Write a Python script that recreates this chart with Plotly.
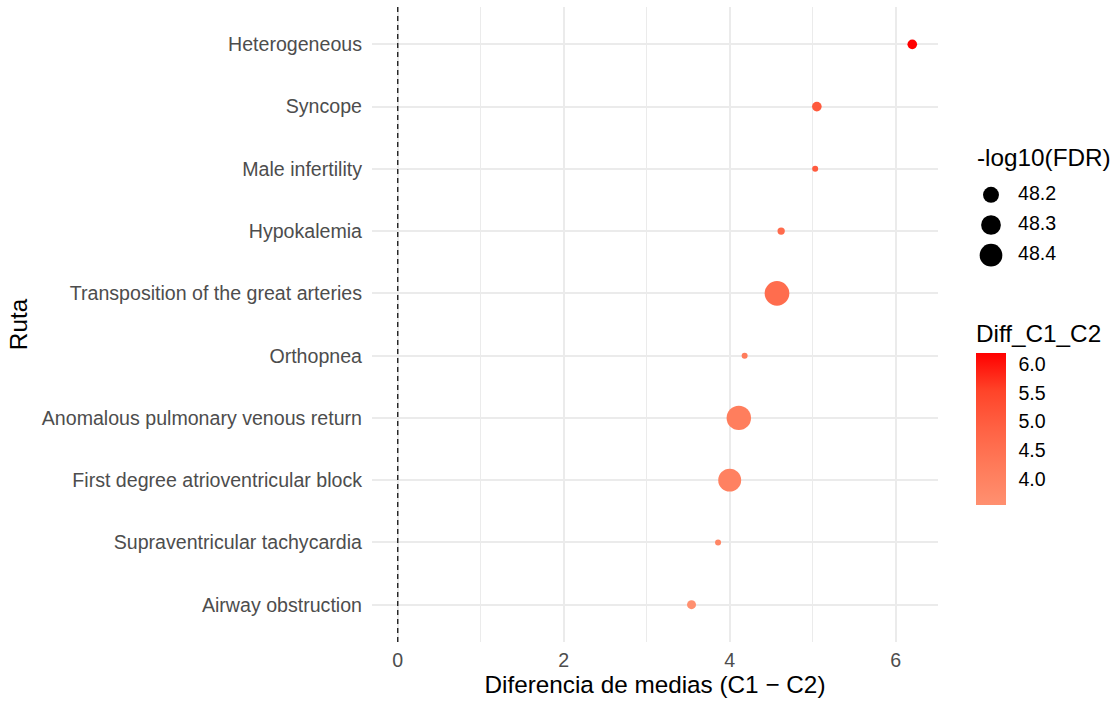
import plotly.graph_objects as go
import numpy as np

# ---- data (top to bottom) ----
rutas = ["Heterogeneous", "Syncope", "Male infertility", "Hypokalemia",
         "Transposition of the great arteries", "Orthopnea",
         "Anomalous pulmonary venous return", "First degree atrioventricular block",
         "Supraventricular tachycardia", "Airway obstruction"]
diff_c1_c2 = [6.20, 5.05, 5.03, 4.62, 4.57, 4.18, 4.11, 4.00, 3.86, 3.54]
neg_log10_fdr = [48.105, 48.105, 48.09, 48.092, 48.48, 48.09, 48.47, 48.41, 48.09, 48.10]
size_breaks = [48.2, 48.3, 48.4]
size_labels = ["48.2", "48.3", "48.4"]
color_ticks = [4.0, 4.5, 5.0, 5.5, 6.0]
color_ticklabels = ["4.0", "4.5", "5.0", "5.5", "6.0"]

W, H = 1117, 704
# panel in pixels
PL, PR, PT, PB = 372, 938, 7, 642
FONT = "Liberation Sans, Arial, sans-serif"
TITLE_SIZE = 24.3
TEXT_SIZE = 19.6

smin, smax = min(neg_log10_fdr), max(neg_log10_fdr)
DMIN, DMAX = 6.0, 24.7


def size_scale(v):
    t = np.clip((np.asarray(v, float) - smin) / (smax - smin), 0, 1)
    return DMIN + (DMAX - DMIN) * np.sqrt(t)


cscale = [[0.0, "#FF9070"], [0.25, "#FF7B5A"], [0.5, "#FF6244"],
          [0.75, "#FF4429"], [1.0, "#FF0000"]]

lo = min(0, min(diff_c1_c2))
hi = max(diff_c1_c2)
pad = 0.05 * (hi - lo)

fig = go.Figure()

fig.add_trace(go.Scatter(
    x=diff_c1_c2, y=rutas, mode="markers",
    marker=dict(size=size_scale(neg_log10_fdr), color=diff_c1_c2,
                colorscale=cscale, cmin=min(diff_c1_c2), cmax=max(diff_c1_c2),
                line=dict(width=0), opacity=1,
                colorbar=dict(
                    title=dict(text="Diff_C1_C2", side="top",
                               font=dict(size=TITLE_SIZE, color="black", family=FONT)),
                    x=976 / W, xanchor="left", xref="paper",
                    y=(H - 505) / H, yanchor="bottom", yref="paper",
                    lenmode="pixels", len=152 + 32, thickness=30, ypad=0, xpad=0,
                    outlinewidth=0, tickvals=color_ticks, ticktext=color_ticklabels,
                    ticks="outside", ticklen=9, tickcolor="rgba(0,0,0,0)", tickwidth=1,
                    tickfont=dict(size=TEXT_SIZE, color="black", family=FONT))),
    showlegend=False, xaxis="x", yaxis="y", hoverinfo="x+y"))

# size legend drawn on its own small axes
fig.add_trace(go.Scatter(
    x=[0, 0, 0], y=size_breaks, mode="markers",
    marker=dict(size=size_scale(size_breaks), color="#000000", opacity=1,
                line=dict(width=0)),
    cliponaxis=False,
    xaxis="x2", yaxis="y2", showlegend=False, hoverinfo="skip"))
fig.add_trace(go.Scatter(
    x=[27, 27, 27], y=size_breaks, mode="text", text=size_labels,
    textposition="middle right", cliponaxis=False,
    textfont=dict(size=TEXT_SIZE, color="black", family=FONT),
    xaxis="x2", yaxis="y2", showlegend=False, hoverinfo="skip"))

grid = "#EBEBEB"
fig.update_layout(
    width=W, height=H, margin=dict(l=0, r=0, t=0, b=0),
    paper_bgcolor="white", plot_bgcolor="white",
    font=dict(family=FONT, color="#4D4D4D"),
    xaxis=dict(domain=[PL / W, PR / W], range=[lo - pad, hi + pad],
               tickvals=[0, 2, 4, 6], ticktext=["0", "2", "4", "6"],
               showgrid=True, gridcolor=grid, gridwidth=1.8, zeroline=False,
               minor=dict(dtick=1, tick0=0, showgrid=True, gridcolor=grid, gridwidth=1.3),
               ticks="", showline=False, automargin=False,
               tickfont=dict(size=TEXT_SIZE, color="#4D4D4D"),
               ticklabelstandoff=4,
               title=dict(text="Diferencia de medias (C1 − C2)", standoff=4,
                          font=dict(size=TITLE_SIZE, color="black")),
               anchor="y"),
    yaxis=dict(domain=[(H - PB) / H, (H - PT) / H], type="category",
               categoryorder="array", categoryarray=rutas,
               range=[len(rutas) - 0.4, -0.6],
               showgrid=True, gridcolor=grid, gridwidth=1.8, zeroline=False,
               ticks="", showline=False, automargin=False,
               tickfont=dict(size=TEXT_SIZE, color="#4D4D4D"),
               ticklabelstandoff=9,
               title=dict(text="Ruta", standoff=7, font=dict(size=TITLE_SIZE, color="black")),
               anchor="x"),
    xaxis2=dict(domain=[980 / W, 1.0], range=[-11, 126], visible=False, fixedrange=True, anchor="y2"),
    yaxis2=dict(domain=[(H - 270.25) / H, (H - 179.75) / H], range=[48.45, 48.15],
                visible=False, fixedrange=True, anchor="x2"),
    shapes=[dict(type="line", xref="x", yref="y domain", x0=0, x1=0, y0=0, y1=1,
                 line=dict(color="#222222", width=1.4, dash="5px,4px"))],
    annotations=[dict(text="-log10(FDR)", xref="paper", yref="paper",
                      x=975 / W, y=(H - 157) / H, xanchor="left", yanchor="middle",
                      showarrow=False, font=dict(size=TITLE_SIZE, color="black", family=FONT))],
)

fig.write_html("out.html")
